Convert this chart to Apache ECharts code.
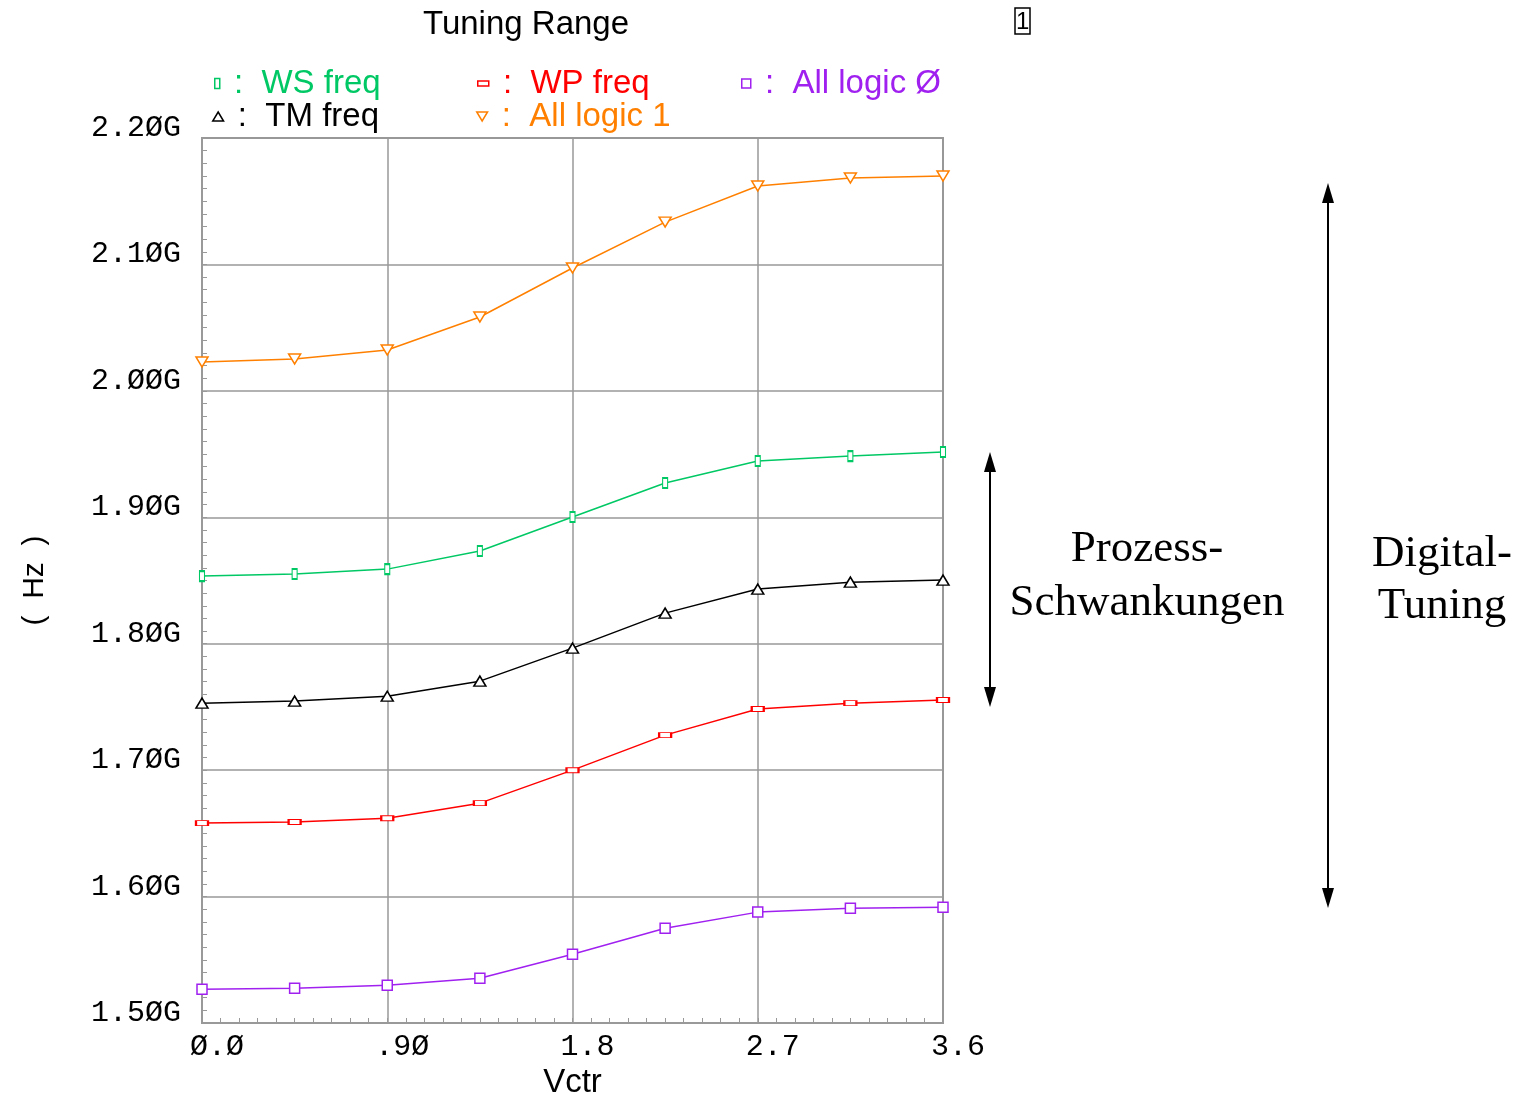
<!DOCTYPE html>
<html>
<head>
<meta charset="utf-8">
<script src="https://cdn.jsdelivr.net/npm/echarts@6/dist/echarts.min.js"></script>
<style>html,body{margin:0;padding:0;background:#fff;}#c{width:1519px;height:1093px;}</style>
</head>
<body>
<div id="c"></div>
<script>
// ---- data ----
const vctr = [0, 0.45, 0.9, 1.35, 1.8, 2.25, 2.7, 3.15, 3.6];
const wsFreq = [1.8535, 1.8551, 1.8590, 1.8733, 1.9002, 1.9271, 1.9445, 1.9484, 1.9516];
const tmFreq = [1.7530, 1.7546, 1.7585, 1.7704, 1.7965, 1.8242, 1.8432, 1.8487, 1.8503];
const wpFreq = [1.6581, 1.6589, 1.6620, 1.6739, 1.7000, 1.7277, 1.7483, 1.7530, 1.7554];
const allLogic1 = [2.0228, 2.0252, 2.0323, 2.0584, 2.0972, 2.1335, 2.1620, 2.1684, 2.1699];
const allLogic0 = [1.5267, 1.5275, 1.5299, 1.5354, 1.5544, 1.5750, 1.5877, 1.5908, 1.5916];
const xTickLabels = {'0': 'Ø.Ø', '0.9': '.9Ø', '1.8': '1.8', '2.7': '2.7', '3.6': '3.6'};
const seriesNames = ['WS freq', 'TM freq', 'WP freq', 'All logic 1', 'All logic Ø'];

const C = {ws: '#00c864', tm: '#000000', wp: '#ff0000', l1: '#ff8000', l0: '#a020f0'};
const SANS = '"Liberation Sans", Arial, sans-serif';
const MONO = '"Liberation Mono", "DejaVu Sans Mono", monospace';
const SERIF = '"Liberation Serif", "DejaVu Serif", serif';
const TRI_DOWN = 'path://M0,0L12,0L6,10Z';
const TRI_UP = 'path://M6,0L12,10L0,10Z';

function pairs(ys) { return vctr.map((x, i) => [x, ys[i]]); }
function mkSeries(name, ys, color, symbol, size) {
  return {
    name: name, type: 'line', data: pairs(ys),
    symbol: symbol, symbolSize: size, showAllSymbol: true,
    lineStyle: {color: color, width: 1.5},
    itemStyle: {color: '#fff', borderColor: color, borderWidth: 1.5},
    emphasis: {disabled: true}, animation: false, z: 3
  };
}
function mkLegend(name, color, icon, w, h, left, top) {
  return {
    left: left, top: top, itemWidth: w, itemHeight: h, itemGap: 0, padding: 0,
    selectedMode: false,
    data: [{name: name, icon: icon, itemStyle: {color: '#fff', borderColor: color, borderWidth: 1.5},
            textStyle: {color: color}}],
    formatter: ' :  ' + name,
    textStyle: {fontFamily: SANS, fontSize: 33, color: color}
  };
}

const chart = echarts.init(document.getElementById('c'), null, {renderer: 'canvas'});
const arrowStyle = {stroke: '#000', lineWidth: 2};
function arrow(x, y1, y2) {
  return [
    {type: 'line', shape: {x1: x, y1: y1 + 12, x2: x, y2: y2 - 12}, style: arrowStyle},
    {type: 'polygon', shape: {points: [[x, y1], [x - 6, y1 + 20], [x + 6, y1 + 20]]}, style: {fill: '#000'}},
    {type: 'polygon', shape: {points: [[x, y2], [x - 6, y2 - 20], [x + 6, y2 - 20]]}, style: {fill: '#000'}}
  ];
}

chart.setOption({
  backgroundColor: '#fff',
  animation: false,
  title: [
    {text: 'Tuning Range', left: 521, top: 3, textAlign: 'center',
     textStyle: {fontFamily: SANS, fontSize: 33, fontWeight: 'normal', color: '#000'}},
    {text: '1', left: 1015, top: 8, padding: [2, 1, 0, 1], borderColor: '#000', borderWidth: 1.5,
     textStyle: {fontFamily: SANS, fontSize: 24, fontWeight: 'normal', color: '#000'}}
  ],
  legend: [
    mkLegend(seriesNames[0], C.ws, 'rect', 5, 10, 214, 67),
    mkLegend(seriesNames[2], C.wp, 'rect', 11, 5, 477, 67),
    mkLegend(seriesNames[4], C.l0, 'rect', 9, 9, 741, 67),
    mkLegend(seriesNames[1], C.tm, TRI_UP, 11, 9, 212, 100),
    mkLegend(seriesNames[3], C.l1, TRI_DOWN, 11, 9, 476, 100)
  ],
  grid: {left: 202, right: 576, top: 138, bottom: 70, containLabel: false, outerBoundsMode: 'none', show: false},
  xAxis: {
    type: 'value', min: 0, max: 3.6, interval: 0.9,
    name: 'Vctr', nameLocation: 'middle', nameGap: 37,
    nameTextStyle: {fontFamily: SANS, fontSize: 33, color: '#000'},
    axisLine: {show: true, lineStyle: {color: '#999', width: 2}},
    axisTick: {show: true, inside: true, length: 5, lineStyle: {color: '#999'}},
    minorTick: {show: true, splitNumber: 10, length: 5, lineStyle: {color: '#999'}},
    splitLine: {show: true, lineStyle: {color: '#999', width: 1.5}},
    axisLabel: {fontFamily: MONO, fontSize: 30, color: '#000', margin: 9, padding: [0, 0, 0, 30],
      formatter: v => xTickLabels[String(+v.toFixed(2))] || String(v)}
  },
  yAxis: {
    type: 'value', min: 1.5, max: 2.2, interval: 0.1,
    name: '(  Hz  )', nameLocation: 'middle', nameGap: 152, nameRotate: 90,
    nameTextStyle: {fontFamily: SANS, fontSize: 30, color: '#000'},
    axisLine: {show: true, lineStyle: {color: '#999', width: 2}},
    axisTick: {show: true, inside: true, length: 5, lineStyle: {color: '#999'}},
    minorTick: {show: true, splitNumber: 10, length: 5, lineStyle: {color: '#999'}},
    splitLine: {show: true, lineStyle: {color: '#999', width: 1.5}},
    axisLabel: {fontFamily: MONO, fontSize: 30, color: '#000', margin: 21, verticalAlign: 'bottom',
      lineHeight: 20,
      formatter: v => (v.toFixed(2) + 'G').replace(/0/g, 'Ø')}
  },
  series: [
    mkSeries(seriesNames[3], allLogic1, C.l1, TRI_DOWN, [12, 10]),
    mkSeries(seriesNames[0], wsFreq, C.ws, 'rect', [5, 10]),
    mkSeries(seriesNames[1], tmFreq, C.tm, TRI_UP, [12, 10]),
    mkSeries(seriesNames[2], wpFreq, C.wp, 'rect', [12, 5]),
    mkSeries(seriesNames[4], allLogic0, C.l0, 'rect', [10, 10])
  ],
  graphic: [
    {type: 'rect', shape: {x: 202, y: 138, width: 741, height: 885}, style: {fill: 'none', stroke: '#999', lineWidth: 2}, z: 0, silent: true},
    ...arrow(990, 452, 707),
    ...arrow(1328, 183, 908),
    {type: 'text', x: 1147, y: 576, style: {text: 'Prozess-\nSchwankungen', fontFamily: SERIF, fontSize: 45, lineHeight: 54,
      fill: '#000', align: 'center', verticalAlign: 'middle'}},
    {type: 'text', x: 1442, y: 580, style: {text: 'Digital-\nTuning', fontFamily: SERIF, fontSize: 45, lineHeight: 52,
      fill: '#000', align: 'center', verticalAlign: 'middle'}}
  ]
});
</script>
</body>
</html>
